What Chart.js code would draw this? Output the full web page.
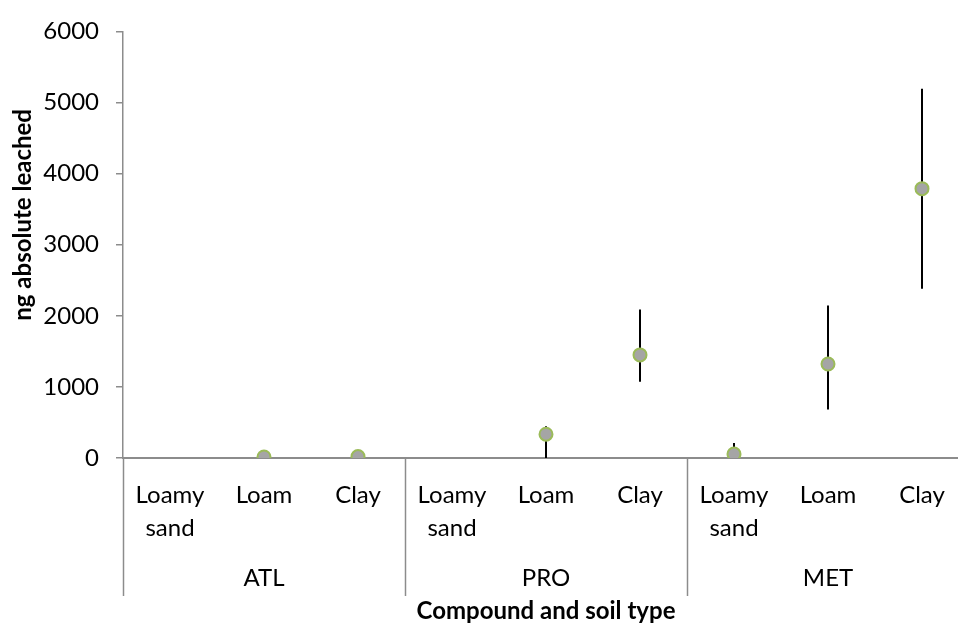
<!DOCTYPE html>
<html>
<head>
<meta charset="utf-8">
<script src="https://cdn.jsdelivr.net/npm/chart.js@4/dist/chart.umd.min.js"></script>
<style>
  html, body { margin: 0; padding: 0; background: #fff; overflow: hidden; }
  #wrap { width: 980px; height: 629px; }
</style>
</head>
<body>
<div id="wrap"><canvas id="c" width="980" height="629"></canvas></div>
<script>
// Soil types (category axis), repeated for each compound group
const soilLabels = [
  ['Loamy', 'sand'], 'Loam', 'Clay',
  ['Loamy', 'sand'], 'Loam', 'Clay',
  ['Loamy', 'sand'], 'Loam', 'Clay'
];
// Compound groups, each spanning three soil categories
const compounds = ['ATL', 'PRO', 'MET'];
// Mean amount leached (ng)
const meanLeached = [null, 15, 20, null, 335, 1450, 56, 1322, 3788];
// Error bar lower and upper bounds (ng)
const errLow  = [null, null, null, null, 0, 1072, 0, 682, 2380];
const errHigh = [null, null, null, null, 445, 2090, 210, 2145, 5195];
// Y axis ticks
const yTicks = [0, 1000, 2000, 3000, 4000, 5000, 6000];

const AXIS = '#8c8c8c';
const FONT = 'Lato, "Open Sans", sans-serif';

// Vertical error bars drawn beneath the markers
const errorBars = {
  id: 'errorBars',
  beforeDatasetsDraw(chart) {
    const { ctx, scales: { x, y } } = chart;
    ctx.save();
    ctx.strokeStyle = '#000';
    ctx.lineWidth = 2;
    for (let i = 0; i < meanLeached.length; i++) {
      if (errLow[i] == null || errHigh[i] == null) continue;
      const px = x.getPixelForValue(i);
      ctx.beginPath();
      ctx.moveTo(px, y.getPixelForValue(errLow[i]));
      ctx.lineTo(px, y.getPixelForValue(errHigh[i]));
      ctx.stroke();
    }
    ctx.restore();
  }
};

// Second level of the category axis: group separators and compound names
const groupAxis = {
  id: 'groupAxis',
  afterDraw(chart) {
    const { ctx, scales: { x, y } } = chart;
    const top = x.top;
    const bottom = top + 138;
    const per = soilLabels.length / compounds.length;
    const step = x.getPixelForValue(1) - x.getPixelForValue(0);
    ctx.save();
    ctx.strokeStyle = AXIS;
    ctx.lineWidth = 1.5;
    for (let g = 0; g <= compounds.length; g++) {
      const bx = Math.round(x.getPixelForValue(g * per) - step / 2) + 0.5;
      ctx.beginPath();
      ctx.moveTo(bx, top);
      ctx.lineTo(bx, bottom);
      ctx.stroke();
    }
    ctx.fillStyle = '#000';
    ctx.font = '24px ' + FONT;
    ctx.textAlign = 'center';
    ctx.textBaseline = 'middle';
    compounds.forEach((name, g) => {
      const cx = x.getPixelForValue(g * per + (per - 1) / 2);
      ctx.fillText(name, cx, top + 120);
    });

    // Value axis title, placed a little above the middle of the axis
    ctx.font = 'bold 24px ' + FONT;
    ctx.translate(23, y.getPixelForValue(3420));
    ctx.rotate(-Math.PI / 2);
    ctx.fillText('ng absolute leached', 0, 0);
    ctx.restore();
  }
};

new Chart(document.getElementById('c'), {
  type: 'line',
  data: {
    labels: soilLabels,
    datasets: [{
      data: meanLeached,
      showLine: false,
      pointRadius: 6.5,
      pointHoverRadius: 6.5,
      pointBackgroundColor: '#a5a5a5',
      pointBorderColor: '#9bbb59',
      pointBorderWidth: 2
    }]
  },
  options: {
    responsive: false,
    animation: false,
    layout: { padding: { top: 27, right: 11, bottom: 0, left: 0 } },
    plugins: { legend: { display: false }, tooltip: { enabled: false } },
    scales: {
      x: {
        type: 'category',
        offset: true,
        grid: { display: false },
        border: { display: true, color: AXIS, width: 2 },
        ticks: {
          color: '#000',
          font: { family: FONT, size: 24, lineHeight: 1.4 },
          padding: 12,
          maxRotation: 0,
          autoSkip: false
        },
        title: {
          display: true,
          text: 'Compound and soil type',
          color: '#000',
          font: { family: FONT, size: 24, weight: 'bold', lineHeight: 1.2 },
          padding: { top: 0, bottom: 3 }
        },
        afterFit(scale) { scale.height = 171; }
      },
      y: {
        min: 0,
        max: 6000,
        afterBuildTicks(scale) { scale.ticks = yTicks.map(v => ({ value: v })); },
        grid: { drawOnChartArea: false, drawTicks: true, tickLength: 7, color: AXIS, lineWidth: 1.5 },
        border: { display: true, color: AXIS, width: 1.5 },
        ticks: {
          color: '#000',
          font: { family: FONT, size: 24 },
          padding: 17,
          callback: v => String(v)
        },
        afterFit(scale) { scale.width = 123; }
      }
    }
  },
  plugins: [errorBars, groupAxis]
});
</script>
</body>
</html>
